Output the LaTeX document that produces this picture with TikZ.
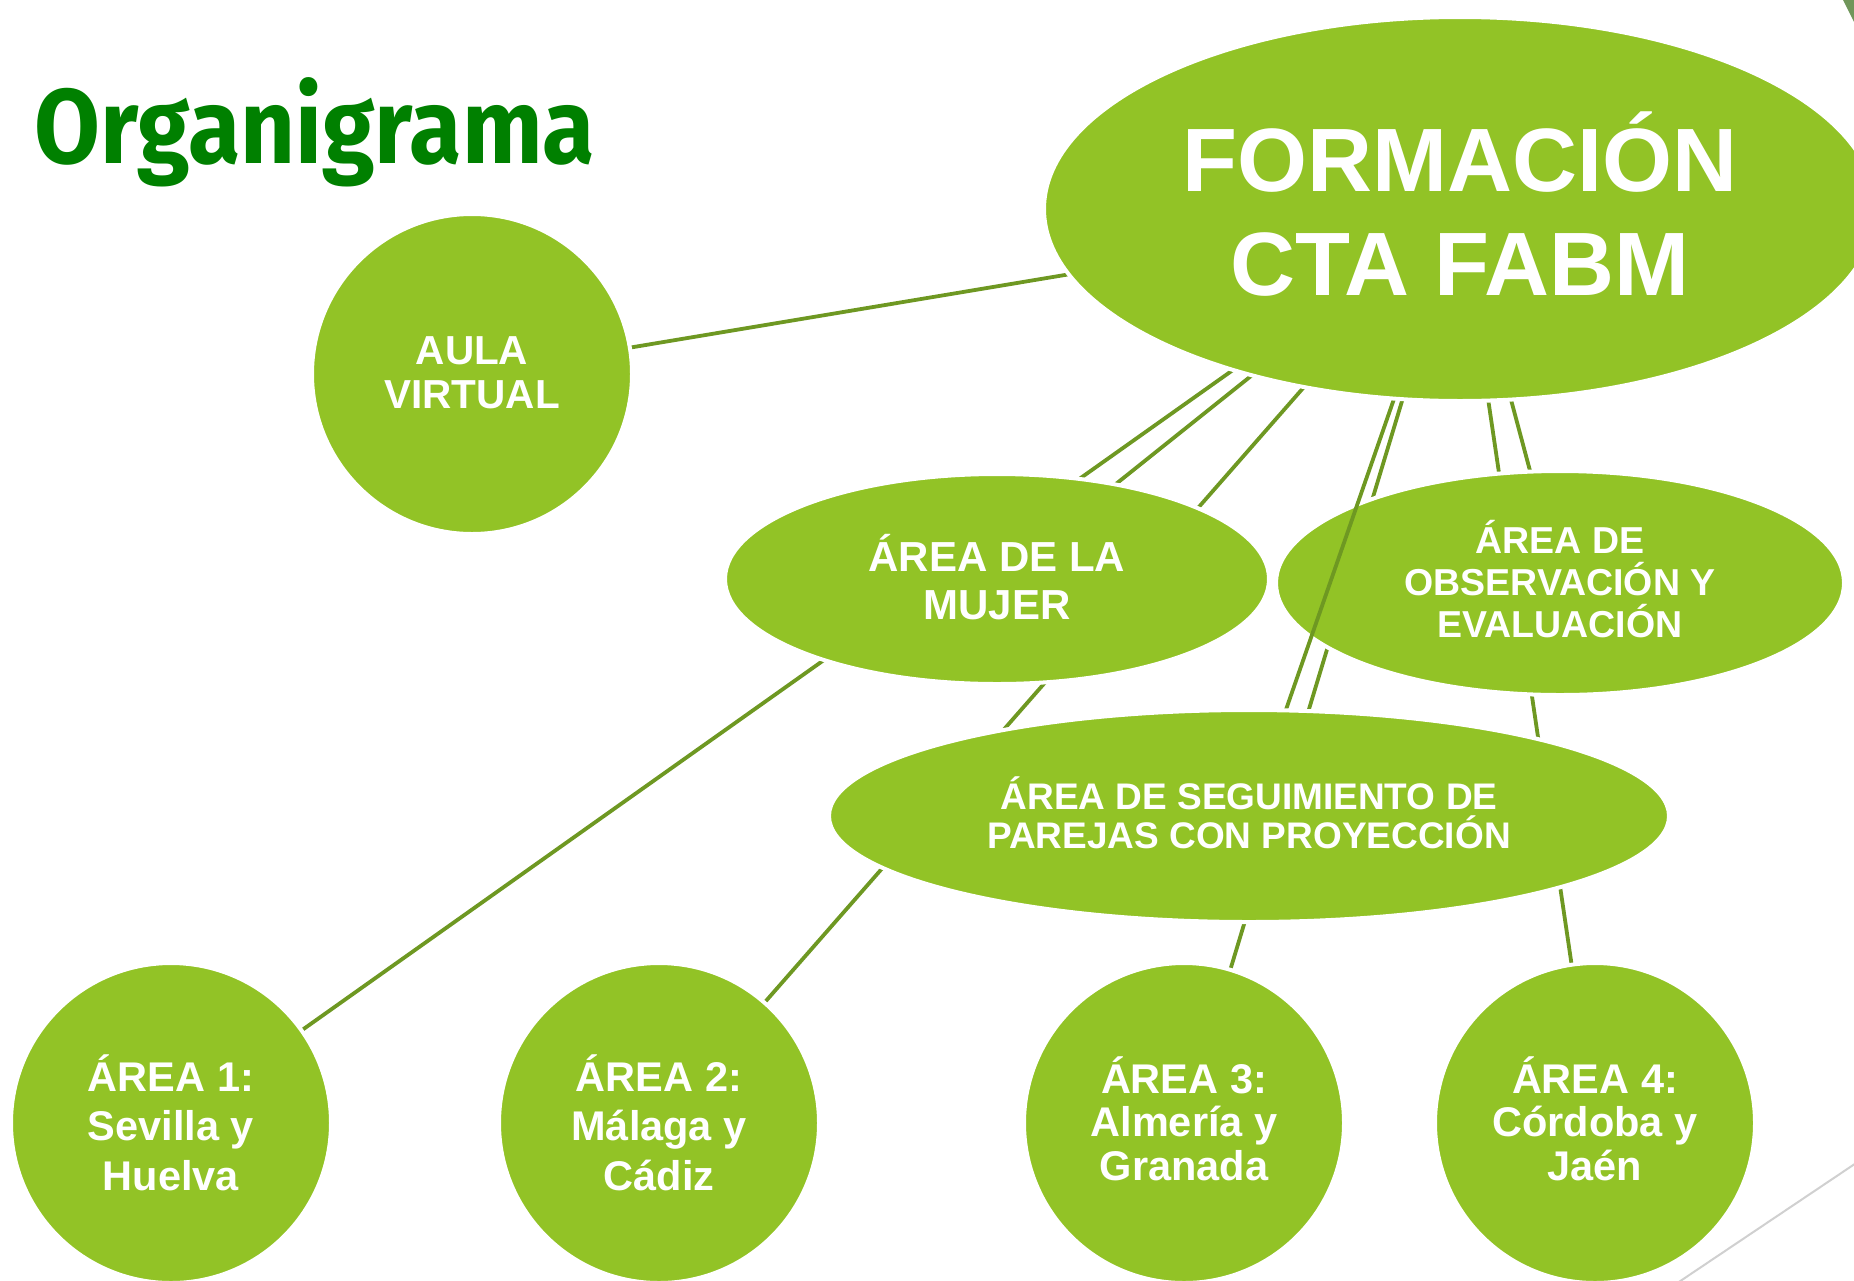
\documentclass[tikz,border=0pt]{standalone}
\usepackage{fontspec}
\setmainfont{Liberation Sans}
\newfontfamily\titlefont[FakeStretch=0.9]{Fira Sans}
\usetikzlibrary{shapes.geometric}
\definecolor{leaf}{RGB}{146,195,38}
\definecolor{stem}{RGB}{110,152,34}
\definecolor{titlegreen}{RGB}{0,128,0}
\definecolor{cornergreen}{RGB}{112,150,90}
\definecolor{slidegray}{RGB}{208,208,208}
\pgfdeclarelayer{background}
\pgfdeclarelayer{front}
\pgfsetlayers{background,main,front}
\tikzset{
  heading/.style={
    anchor=base west,
    text=titlegreen,
    font=\titlefont\fontsize{106}{110}\selectfont\bfseries
  },
  bubble/.style={
    circle,
    fill=leaf,
    draw=white,
    line width=4pt,
    minimum size=320pt,
    inner sep=0pt,
    align=center,
    text=white,
    text depth=0pt,
    font=\fontsize{41.5}{49.5}\selectfont\bfseries
  },
  area/.style={
    ellipse,
    fill=leaf,
    draw=white,
    line width=4pt,
    inner sep=0pt,
    align=center,
    text=white,
    text depth=0pt
  },
  link/.style={draw=stem, line width=3.8pt}
}

\begin{document}
\begin{tikzpicture}[x=1pt, y=-1pt]
\useasboundingbox (0,0) rectangle (1854,1280);

% --- Title
\node[heading] (title) at (31,163) {Organigrama};

% --- Top: main unit + virtual classroom
\begin{pgfonlayer}{front}
\node[area, minimum width=832pt, minimum height=384pt, text height=172pt,
  font=\fontsize{90}{104}\selectfont\bfseries] (form) at (1460,209) {FORMACIÓN\\CTA FABM};
\end{pgfonlayer}
\node[bubble, text height=68pt, font=\fontsize{40.5}{44}\selectfont\bfseries] (aula) at (472,374) {AULA\\VIRTUAL};

% --- Middle: areas
\node[area, minimum width=544pt, minimum height=210pt, text height=80pt,
  font=\fontsize{42}{48}\selectfont\bfseries] (mujer) at (997,579) {ÁREA DE LA\\MUJER};
\node[area, minimum width=568pt, minimum height=224pt, text height=108pt,
  font=\fontsize{37.5}{42}\selectfont\bfseries] (obs) at (1560,583) {ÁREA DE\\OBSERVACIÓN Y\\EVALUACIÓN};
\begin{pgfonlayer}{front}
\node[area, minimum width=840pt, minimum height=212pt, text height=64pt,
  font=\fontsize{37}{39}\selectfont\bfseries] (seg) at (1249,816) {ÁREA DE SEGUIMIENTO DE\\PAREJAS CON PROYECCIÓN};
\end{pgfonlayer}

% --- Bottom: territorial areas
\node[bubble, text height=134pt] (area1) at (171,1123) {ÁREA 1:\\Sevilla y\\Huelva};
\node[bubble, text height=134pt] (area2) at (659,1123) {ÁREA 2:\\Málaga y\\Cádiz};
\node[bubble, text height=114pt, font=\fontsize{41.5}{43.5}\selectfont\bfseries] (area3) at (1184,1123) {ÁREA 3:\\Almería y\\Granada};
\node[bubble, text height=114pt, font=\fontsize{41.5}{43.5}\selectfont\bfseries] (area4) at (1595,1123) {ÁREA 4:\\Córdoba y\\Jaén};

% --- Links (behind the nodes)
\begin{pgfonlayer}{background}
\draw[link] (form.center) -- (aula.center);
\draw[link] (form.center) -- (area1.center);
\draw[link] (form.center) -- (mujer.center);
\draw[link] (form.center) -- (area2.center);
\draw[link] (form.center) -- (area3.center);
\draw[link] (form.center) -- (obs.center);
\draw[link] (form.center) -- (area4.center);
\end{pgfonlayer}
% this one runs over the observation area
\draw[link] (form.center) -- (seg.center);

% --- Slide decoration
\fill[cornergreen] (1843,0) -- (1860,0) -- (1860,34) -- cycle;
\draw[slidegray, line width=2pt] (1652,1300) -- (1880,1147);

\end{tikzpicture}
\end{document}
